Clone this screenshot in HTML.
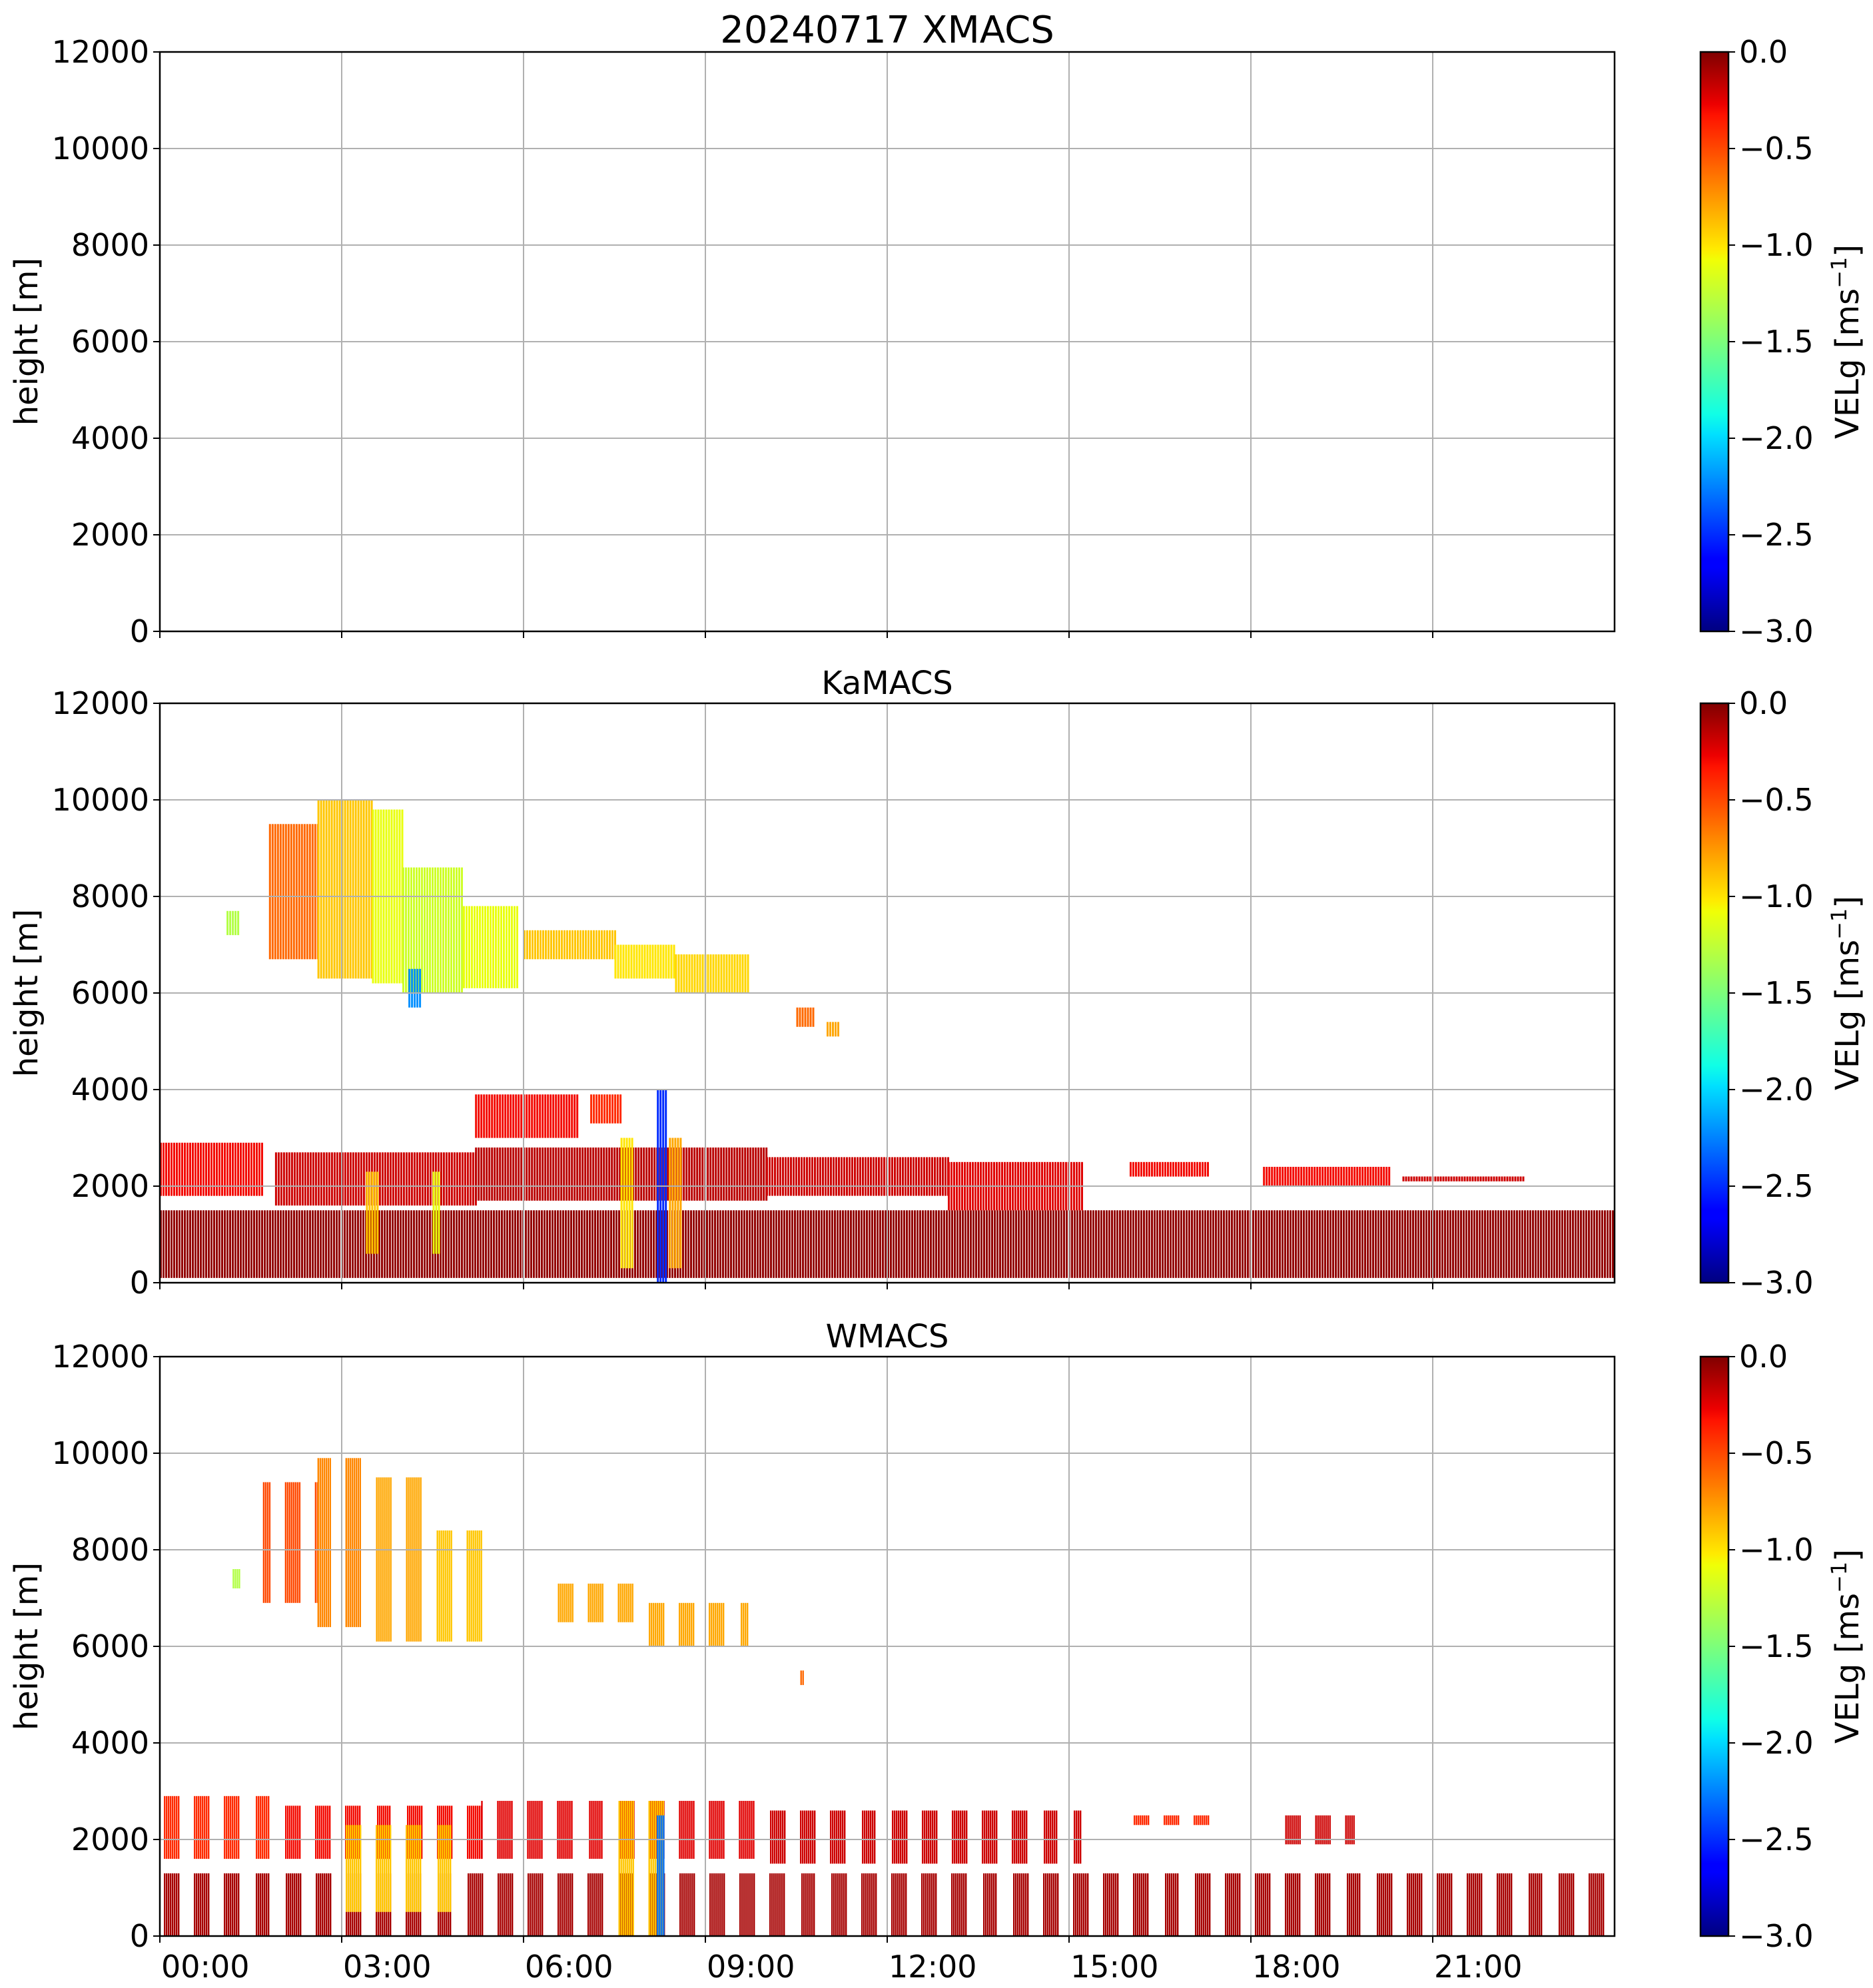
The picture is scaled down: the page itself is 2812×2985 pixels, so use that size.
<!DOCTYPE html>
<html><head><meta charset="utf-8"><style>
body{margin:0;background:#fff}
svg text{font-family:"DejaVu Sans","Liberation Sans",sans-serif;fill:#000}
</style></head><body>
<svg id="fig" xmlns="http://www.w3.org/2000/svg" width="2812" height="2980" viewBox="0 0 2812 2980">
<rect width="2812" height="2980" fill="#fff"/>
<defs>
<linearGradient id="jet" x1="0" y1="1" x2="0" y2="0">
<stop offset="0" stop-color="#000080"/><stop offset="0.11" stop-color="#0000ff"/><stop offset="0.125" stop-color="#0000ff"/>
<stop offset="0.34" stop-color="#00e0ff"/><stop offset="0.375" stop-color="#10ffe6"/><stop offset="0.5" stop-color="#7dff7a"/>
<stop offset="0.64" stop-color="#f0ff06"/><stop offset="0.66" stop-color="#ffea00"/><stop offset="0.89" stop-color="#ff1300"/>
<stop offset="0.91" stop-color="#ed0000"/><stop offset="1" stop-color="#800000"/>
</linearGradient>
</defs>
<g id="plots"></g>
</svg>
<script>
// data: [startHour, endHour, bottomHeight_m, topHeight_m, VELg]
const kaFeatures=[
[0,24,100,1500,-0.05],[0,1.7,1800,2900,-0.3],[1.9,5.2,1600,2700,-0.2],[5.2,10,1700,2800,-0.15],
[10,13,1800,2600,-0.2],[13,15.2,1500,2500,-0.25],[16,17.3,2200,2500,-0.3],[18.2,20.3,2000,2400,-0.3],
[20.5,22.5,2100,2200,-0.2],[3.4,3.6,600,2300,-0.9],[4.5,4.6,600,2300,-1.1],[7.6,7.8,300,3000,-1.0],[8.4,8.6,300,3000,-0.8],[8.2,8.35,0,4000,-2.5],
[5.2,6.9,3000,3900,-0.3],[7.1,7.6,3300,3900,-0.4],[1.1,1.3,7200,7700,-1.3],[1.8,2.6,6700,9500,-0.6],
[2.6,3.5,6300,10000,-0.9],[3.5,4.0,6200,9800,-1.1],[4.0,5.0,6000,8600,-1.2],[5.0,5.9,6100,7800,-1.1],
[4.1,4.3,5700,6500,-2.2],[6.0,7.5,6700,7300,-0.9],[7.5,8.5,6300,7000,-1.0],[8.5,9.7,6000,6800,-0.95],
[10.5,10.8,5300,5700,-0.6],[11.0,11.2,5100,5400,-0.8]];
const wFeatures=[
[0,24,0,1300,-0.1],[0,2,1600,2900,-0.4],[2,5.3,1600,2700,-0.3],[5.3,10,1600,2800,-0.25],[10,15.2,1500,2600,-0.2],
[16,17.3,2300,2500,-0.4],[18.5,19.7,1900,2500,-0.2],[3,5,500,2300,-0.9],[7.5,8.5,0,2800,-0.9],[8.2,8.35,0,2500,-2.3],
[1.7,2.6,6900,9400,-0.5],[2.6,3.5,6400,9900,-0.7],[3.5,4.5,6100,9500,-0.8],[4.5,5.3,6100,8400,-0.9],[6.5,8,6500,7300,-0.8],
[8,9.7,6000,6900,-0.8],[1.2,1.3,7200,7600,-1.3],[10.5,10.6,5200,5500,-0.6]];
const yTicks=[0,2000,4000,6000,8000,10000,12000];
const xTicks=[0,3,6,9,12,15,18,21];
const xTickLabels=["00:00","03:00","06:00","09:00","12:00","15:00","18:00","21:00"];
const cbTicks=[0,-0.5,-1,-1.5,-2,-2.5,-3];
const cbTickLabels=["0.0","\u22120.5","\u22121.0","\u22121.5","\u22122.0","\u22122.5","\u22123.0"];
const titles=["20240717 XMACS","KaMACS","WMACS"];

const NS="http://www.w3.org/2000/svg";
const L=240,R=2424,H=870,tops=[78,1056,2037];
const CBX=2553,CBW=42;
const FS=46;
function jet(t){
  function pw(pts){for(let i=1;i<pts.length;i++){if(t<=pts[i][0]){const a=pts[i-1],b=pts[i];return a[1]+(b[1]-a[1])*(t-a[0])/(b[0]-a[0]);}}return pts[pts.length-1][1];}
  const r=pw([[0,0],[0.35,0],[0.66,1],[0.89,1],[1,0.5]]),g=pw([[0,0],[0.125,0],[0.375,1],[0.64,1],[0.91,0],[1,0]]),b=pw([[0,0.5],[0.11,1],[0.34,1],[0.65,0],[1,0]]);
  return `rgb(${Math.round(r*255)},${Math.round(g*255)},${Math.round(b*255)})`;
}
function mk(tag,attrs,parent){const e=document.createElementNS(NS,tag);for(const k in attrs)e.setAttribute(k,attrs[k]);parent.appendChild(e);return e;}
const root=document.getElementById('plots');
function xs(h){return L+(h/24)*(R-L);}
function ys(top,m){return top+H-(m/12000)*H;}

tops.forEach((top,pi)=>{
  const g=mk('g',{},root);
  
  
  const feats=pi===1?kaFeatures:(pi===2?wFeatures:[]);
  const dg=mk('g',{},g);
  
  
  feats.forEach(f=>{
    const x0=xs(f[0]),x1=xs(f[1]),y0=ys(top,f[3]),y1=ys(top,f[2]);
    const col=jet((f[4]+3)/3);
    const step=pi===1?4:3;
    for(let x=x0;x<x1;x+=step){
      if(pi===2){const hr=(x-L)/(R-L)*24;const ph=((hr-0.05)%0.5+0.5)%0.5;if(ph>0.26)continue;}
      const r=mk('rect',{x:x.toFixed(1),y:y0.toFixed(1),width:(pi===1?3:2.4),height:(y1-y0).toFixed(1),fill:col},dg);
      
      
    }
  });
  yTicks.forEach(v=>{const y=ys(top,v);if(v>0&&v<12000)mk('line',{x1:L,x2:R,y1:y,y2:y,stroke:'#b0b0b0','stroke-width':2},g);
    mk('line',{x1:L-10,x2:L,y1:y,y2:y,stroke:'#000','stroke-width':2},g);
    const t=mk('text',{x:L-16,y:y+16,'text-anchor':'end','font-size':FS},g);t.textContent=v;
    
    });
  xTicks.forEach((v,i)=>{const x=xs(v);if(v>0)mk('line',{x1:x,x2:x,y1:top,y2:top+H,stroke:'#b0b0b0','stroke-width':2},g);
    mk('line',{x1:x,x2:x,y1:top+H,y2:top+H+10,stroke:'#000','stroke-width':2},g);
    if(pi===2){const t=mk('text',{x:x+2,y:top+H+62,'font-size':FS},g);t.textContent=xTickLabels[i];
      
      }});
  mk('rect',{x:L,y:top,width:R-L,height:H,fill:'none',stroke:'#000','stroke-width':2.5},g);
  const tt=mk('text',{x:(L+R)/2,y:top-14,'text-anchor':'middle','font-size':pi===0?56:48},g);tt.textContent=titles[pi];
  
  
  const yl=mk('text',{x:0,y:0,'text-anchor':'middle','font-size':48,transform:`translate(56,${top+H/2}) rotate(-90)`},g);yl.textContent='height [m]';
  
  
  const cb=mk('g',{},g);
  
  
  mk('rect',{x:CBX,y:top,width:CBW,height:H,fill:'url(#jet)',stroke:'#000','stroke-width':2.5},cb);
  cbTicks.forEach((v,i)=>{const y=top+(-v/3)*H;mk('line',{x1:CBX+CBW,x2:CBX+CBW+10,y1:y,y2:y,stroke:'#000','stroke-width':2},cb);
    const t=mk('text',{x:CBX+CBW+16,y:y+16,'font-size':FS},cb);t.textContent=cbTickLabels[i];
    
    });
  const cl=mk('text',{x:0,y:0,'text-anchor':'middle','font-size':48,transform:`translate(2790,${top+H/2}) rotate(-90)`},cb);
  cl.innerHTML='VELg [ms<tspan dy="-18" font-size="32">\u22121</tspan><tspan dy="18">]</tspan>';
  
  
});
</script>
</body></html>
